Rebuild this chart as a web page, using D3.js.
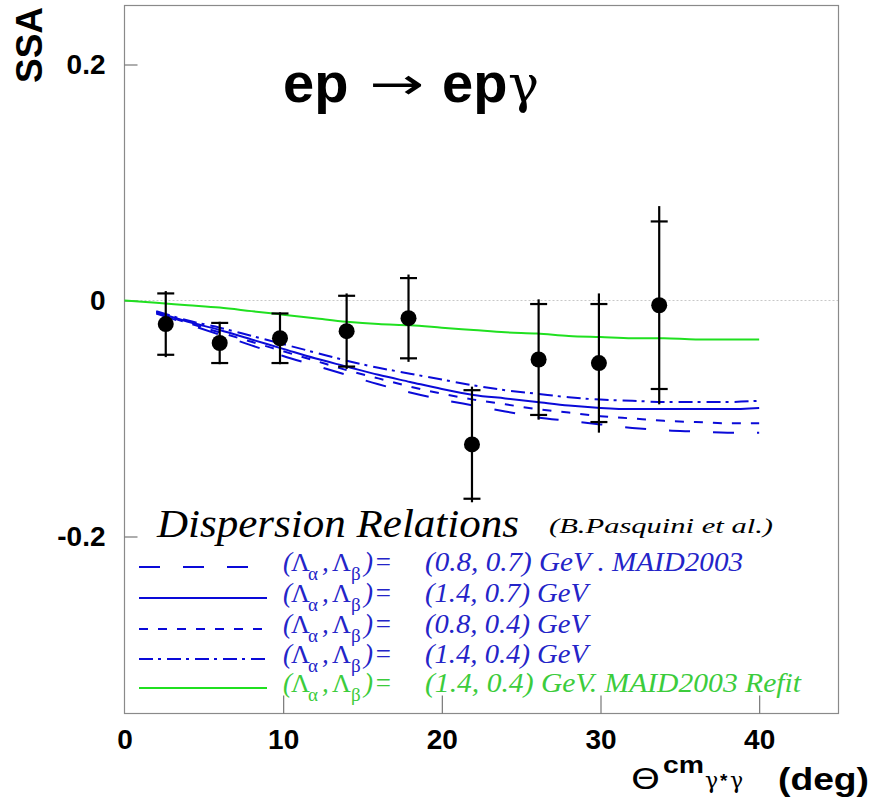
<!DOCTYPE html>
<html>
<head>
<meta charset="utf-8">
<script src="https://cdn.jsdelivr.net/npm/d3@7"></script>
<style>
  body { margin: 0; background: #fff; }
  svg { display: block; }
</style>
</head>
<body>
<svg id="chart" width="875" height="805"></svg>
<script>
// ---- measured single-spin asymmetry (points with stat / total errors) ----
const theta    = [2.6, 6.0, 9.8, 14.0, 17.9, 21.9, 26.1, 29.9, 33.7];
const ssa      = [-0.020, -0.036, -0.032, -0.026, -0.015, -0.122, -0.050, -0.053, -0.004];
const statErr  = [0.026, 0.017, 0.021, 0.030, 0.034, 0.046, 0.047, 0.050, 0.071];
const totalErr = [0.028, 0.018, 0.022, 0.032, 0.037, 0.049, 0.051, 0.059, 0.084];

// ---- dispersion-relation predictions ----
const thetaDR = [2, 4, 6, 8, 10, 12, 14, 16, 18, 20, 22, 24, 26, 28, 30, 32, 34, 36, 38, 40];
const dr0807 = [-0.011, -0.020, -0.029, -0.038, -0.047, -0.055, -0.063, -0.071, -0.078, -0.084,
                -0.089, -0.094, -0.099, -0.102, -0.105, -0.108, -0.110, -0.111, -0.112, -0.112];
const dr1407 = [-0.010, -0.018, -0.025, -0.033, -0.041, -0.049, -0.056, -0.063, -0.069, -0.075,
                -0.080, -0.083, -0.086, -0.089, -0.091, -0.092, -0.092, -0.092, -0.092, -0.091];
const dr0804 = [-0.010, -0.019, -0.027, -0.035, -0.043, -0.051, -0.059, -0.066, -0.073, -0.079,
                -0.084, -0.088, -0.092, -0.095, -0.098, -0.100, -0.102, -0.103, -0.104, -0.104];
const dr1404 = [-0.009, -0.017, -0.023, -0.030, -0.037, -0.044, -0.051, -0.057, -0.062, -0.067,
                -0.072, -0.076, -0.079, -0.082, -0.084, -0.085, -0.086, -0.086, -0.086, -0.085];
const thetaRefit = [0, 2, 4, 6, 8, 10, 12, 14, 16, 18, 20, 22, 24, 26, 28, 30, 32, 34, 36, 38, 40];
const drRefit = [0, -0.002, -0.004, -0.006, -0.009, -0.012, -0.015, -0.018, -0.020, -0.021, -0.023,
                 -0.025, -0.027, -0.028, -0.030, -0.031, -0.032, -0.032, -0.033, -0.033, -0.033];

// ---- axis ticks and legend text ----
const xTicks = [0, 10, 20, 30, 40];
const yTicks = [-0.2, 0, 0.2];
const yTickLabels = ["-0.2", "0", "0.2"];
const legendParams = ["(0.8, 0.7) GeV . MAID2003", "(1.4, 0.7) GeV", "(0.8, 0.4) GeV",
                      "(1.4, 0.4) GeV", "(1.4, 0.4) GeV. MAID2003 Refit"];

// ---- styling for each curve (same order as the legend) ----
const BLUE = "#0a0ad8", BLUE_TXT = "#2424c8", GREEN = "#20e020", GREEN_TXT = "#3ccc3c";
const curves = [
  { xs: thetaDR,    ys: dr0807,  color: BLUE,  text: BLUE_TXT,  dash: "21,23",    paramW: 318 },
  { xs: thetaDR,    ys: dr1407,  color: BLUE,  text: BLUE_TXT,  dash: null,       paramW: 163 },
  { xs: thetaDR,    ys: dr0804,  color: BLUE,  text: BLUE_TXT,  dash: "9,10",     paramW: 163 },
  { xs: thetaDR,    ys: dr1404,  color: BLUE,  text: BLUE_TXT,  dash: "14,5,3,6", paramW: 163 },
  { xs: thetaRefit, ys: drRefit, color: GREEN, text: GREEN_TXT, dash: null,       paramW: 376 }
];

const svg = d3.select("#chart");
const W = 875, H = 805;
const frame = { left: 124.5, top: 5.5, right: 838.5, bottom: 713.5 };

const x = d3.scaleLinear().domain([0, 45]).range([frame.left, frame.right]);
const y = d3.scaleLinear().domain([-0.35, 0.25]).range([frame.bottom, frame.top]);

svg.append("rect").attr("width", W).attr("height", H).attr("fill", "#fff");

// zero reference line
svg.append("line")
  .attr("x1", frame.left).attr("x2", frame.right)
  .attr("y1", y(0)).attr("y2", y(0))
  .attr("stroke", "#c8c8c8").attr("stroke-width", 1).attr("stroke-dasharray", "2,2");

// frame
svg.append("rect")
  .attr("x", frame.left).attr("y", frame.top)
  .attr("width", frame.right - frame.left).attr("height", frame.bottom - frame.top)
  .attr("fill", "none").attr("stroke", "#8a8a8a").attr("stroke-width", 1.2);

const sans = "'Liberation Sans', Arial, sans-serif";

// x axis (ticks pointing inward)
const xAxis = d3.axisBottom(x).tickValues(xTicks).tickSize(-18).tickPadding(16)
  .tickFormat(d3.format("d"));
const gx = svg.append("g").attr("transform", `translate(0,${frame.bottom})`).call(xAxis);
gx.select(".domain").remove();
gx.selectAll(".tick line").attr("stroke", "#777").attr("stroke-width", 1.2)
  .filter(d => d === 0).remove();
gx.selectAll(".tick text")
  .attr("font-family", sans).attr("font-weight", "bold").attr("font-size", 28).attr("fill", "#000");

// y axis (ticks pointing inward)
const yAxis = d3.axisLeft(y).tickValues(yTicks).tickSize(-13).tickPadding(19)
  .tickFormat((d, i) => yTickLabels[i]);
const gy = svg.append("g").attr("transform", `translate(${frame.left},0)`).call(yAxis);
gy.select(".domain").remove();
gy.selectAll(".tick line").attr("stroke", "#777").attr("stroke-width", 1.2);
gy.selectAll(".tick text")
  .attr("font-family", sans).attr("font-weight", "bold").attr("font-size", 28).attr("fill", "#000");

// y axis title
svg.append("text")
  .attr("transform", "translate(42,45) rotate(-90)")
  .attr("text-anchor", "middle")
  .attr("font-family", sans).attr("font-weight", "bold").attr("font-size", 37)
  .attr("textLength", 76).attr("lengthAdjust", "spacingAndGlyphs")
  .text("SSA");

// x axis title: Θ^cm_{γ*γ} (deg)
const xt = svg.append("text").attr("font-family", sans);
xt.append("tspan").attr("x", 631).attr("y", 789)
  .attr("font-family", "'DejaVu Sans', sans-serif").attr("font-size", 28)
  .attr("textLength", 29).attr("lengthAdjust", "spacingAndGlyphs").text("Θ");
xt.append("tspan").attr("x", 663).attr("y", 773)
  .attr("font-weight", "bold").attr("font-size", 24)
  .attr("textLength", 41).attr("lengthAdjust", "spacingAndGlyphs").text("cm");
xt.append("tspan").attr("x", 705).attr("y", 788)
  .attr("font-family", "'DejaVu Serif', serif").attr("font-size", 22).text("γ");
xt.append("tspan").attr("x", 720).attr("y", 787)
  .attr("font-weight", "bold").attr("font-size", 19).text("*");
xt.append("tspan").attr("x", 730).attr("y", 788)
  .attr("font-family", "'DejaVu Serif', serif").attr("font-size", 22).text("γ");
xt.append("tspan").attr("x", 778).attr("y", 790)
  .attr("font-weight", "bold").attr("font-size", 31)
  .attr("textLength", 91).attr("lengthAdjust", "spacingAndGlyphs").text("(deg)");

// reaction label
const title = svg.append("text").attr("font-family", sans);
title.append("tspan").attr("x", 283).attr("y", 102)
  .attr("font-weight", "bold").attr("font-size", 56).text("ep");
title.append("tspan").attr("x", 369).attr("y", 99)
  .attr("font-family", "'DejaVu Sans', sans-serif").attr("font-size", 44)
  .attr("textLength", 55).attr("lengthAdjust", "spacingAndGlyphs").text("→");
title.append("tspan").attr("x", 442).attr("y", 102)
  .attr("font-weight", "bold").attr("font-size", 56).text("ep");
title.append("tspan").attr("x", 508).attr("y", 102)
  .attr("font-family", "'DejaVu Serif', serif").attr("font-size", 52).text("γ");

// model curves
const line = d3.line().x(d => x(d[0])).y(d => y(d[1])).curve(d3.curveMonotoneX);
curves.forEach(c => {
  svg.append("path")
    .attr("d", line(d3.zip(c.xs, c.ys)))
    .attr("fill", "none").attr("stroke", c.color).attr("stroke-width", 2)
    .attr("stroke-dasharray", c.dash);
});

// data: error bars and markers
const pts = theta.map((t, i) => ({ t, v: ssa[i], s: statErr[i], e: totalErr[i] }));
const gp = svg.append("g").attr("stroke", "#000").attr("stroke-width", 2.2);
pts.forEach(p => {
  gp.append("line").attr("x1", x(p.t)).attr("x2", x(p.t))
    .attr("y1", y(p.v + p.e)).attr("y2", y(p.v - p.e));
  [p.v + p.s, p.v - p.s].forEach(v => {
    gp.append("line").attr("x1", x(p.t) - 8.5).attr("x2", x(p.t) + 8.5)
      .attr("y1", y(v)).attr("y2", y(v));
  });
});
svg.append("g").selectAll("circle").data(pts).join("circle")
  .attr("cx", d => x(d.t)).attr("cy", d => y(d.v)).attr("r", 8).attr("fill", "#000");

// legend
const serif = "'Liberation Serif', 'Times New Roman', serif";
svg.append("text").attr("x", 157).attr("y", 537)
  .attr("font-family", serif).attr("font-style", "italic").attr("font-size", 40)
  .attr("textLength", 362).attr("lengthAdjust", "spacingAndGlyphs")
  .text("Dispersion Relations");
svg.append("text").attr("x", 549).attr("y", 533)
  .attr("font-family", serif).attr("font-style", "italic").attr("font-size", 22)
  .attr("textLength", 224).attr("lengthAdjust", "spacingAndGlyphs")
  .text("(B.Pasquini et al.)");

const rowY = [567, 598, 629, 659, 688];
curves.forEach((c, i) => {
  const ly = rowY[i];
  svg.append("line").attr("x1", 139).attr("x2", i === 0 ? 248 : 267)
    .attr("y1", ly).attr("y2", ly)
    .attr("stroke", c.color).attr("stroke-width", 2)
    .attr("stroke-dasharray", c.dash);
  const base = ly + 4;
  // (Λ_α , Λ_β)=  with upright capital Lambda and Greek subscripts
  const t = svg.append("text").attr("fill", c.text).attr("font-family", serif).attr("font-size", 27);
  const span = (tx, px, dy, fs, italic) => t.append("tspan").attr("x", px).attr("y", base + dy)
    .attr("font-size", fs).attr("font-style", italic ? "italic" : "normal").text(tx);
  span("(", 283, 0, 27, true);
  span("Λ", 291, 0, 26, false);
  span("α", 308, 9, 19, false);
  span(",", 322, 0, 27, true);
  span("Λ", 332, 0, 26, false);
  span("β", 351, 9, 19, false);
  span(")", 364, 0, 27, true);
  span("=", 374, 0, 27, true);
  t.append("tspan").attr("x", 425).attr("y", base).attr("font-style", "italic").attr("font-size", 28)
    .attr("textLength", c.paramW).attr("lengthAdjust", "spacingAndGlyphs")
    .text(legendParams[i]);
});
</script>
</body>
</html>
